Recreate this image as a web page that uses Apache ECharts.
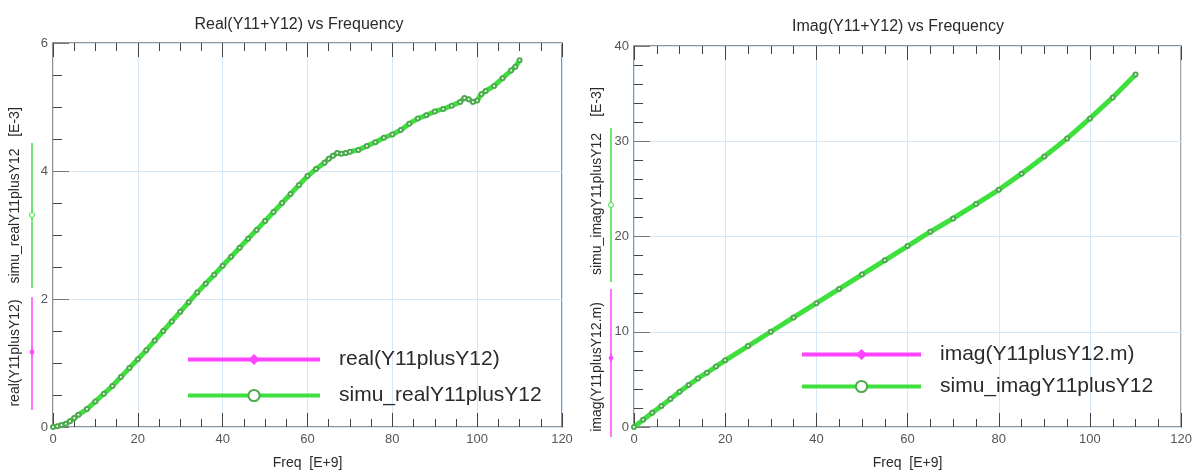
<!DOCTYPE html>
<html>
<head>
<meta charset="utf-8">
<script src="https://cdn.jsdelivr.net/npm/echarts@6/dist/echarts.min.js"></script>
<style>
  html, body { margin: 0; padding: 0; background: #fff; }
  #chart { width: 1195px; height: 475px; }
</style>
</head>
<body>
<div id="chart"></div>
<script>
// ── data ──
const freqReal = [0, 1, 2, 3, 4, 5, 6, 8, 10, 12, 14, 16, 18, 20, 22, 24, 26, 28, 30, 32, 34, 36, 38, 40,
  42, 44, 46, 48, 50, 52, 54, 56, 58, 60, 62, 64, 65, 66, 67, 68, 69, 70, 72, 74, 76, 78, 80, 82, 84, 86,
  88, 90, 92, 94, 96, 97, 98, 99, 100, 101, 102, 104, 106, 108, 109, 110];
const simuReal = [0, 0.01, 0.03, 0.05, 0.09, 0.14, 0.19, 0.28, 0.40, 0.52, 0.64, 0.78, 0.92, 1.06, 1.20,
  1.35, 1.50, 1.65, 1.80, 1.95, 2.10, 2.24, 2.38, 2.52, 2.66, 2.80, 2.94, 3.08, 3.22, 3.36, 3.50, 3.64,
  3.78, 3.92, 4.03, 4.13, 4.19, 4.24, 4.28, 4.27, 4.28, 4.30, 4.33, 4.39, 4.45, 4.52, 4.57, 4.64, 4.74,
  4.82, 4.87, 4.93, 4.97, 5.02, 5.08, 5.14, 5.12, 5.08, 5.10, 5.20, 5.25, 5.33, 5.45, 5.57, 5.63, 5.73];
const measReal = [];   // real(Y11plusY12): legend only, no visible points

const freqImag = [0, 2, 4, 6, 8, 10, 12, 14, 16, 18, 20, 25, 30, 35, 40, 45, 50, 55, 60, 65, 70, 75, 80,
  85, 90, 95, 100, 105, 110];
const simuImag = [0, 0.75, 1.5, 2.2, 2.95, 3.7, 4.4, 5.1, 5.7, 6.35, 7.0, 8.5, 10.0, 11.5, 13.0, 14.5,
  16.0, 17.5, 19.0, 20.5, 21.9, 23.4, 24.9, 26.6, 28.4, 30.3, 32.4, 34.6, 37.0];
const measImag = [];   // imag(Y11plusY12.m): legend only

const titles = ["Real(Y11+Y12) vs Frequency", "Imag(Y11+Y12) vs Frequency"];
const seriesNames = [
  ["real(Y11plusY12)", "simu_realY11plusY12"],
  ["imag(Y11plusY12.m)", "simu_imagY11plusY12"],
];

// ── styles ──
const FONT = '"Liberation Sans", Arial, sans-serif';
const GREEN = "#3ee03e";
const MAGENTA = "#ff44ff";
const BORDER = "#6e6e6e";
const GRIDLINE = "#d6e7f7";
const TEXT = "#2a2a2a";

const pairs = (xs, ys) => xs.map((x, i) => [x, ys[i]]);

function xAxes(gridIndex) {
  return [
    {
      gridIndex, type: "value", min: 0, max: 120, interval: 20,
      name: "Freq  [E+9]", nameLocation: "middle", nameGap: 29,
      nameTextStyle: { fontFamily: FONT, fontSize: 14, color: TEXT },
      axisLine: { show: false },
      axisTick: { inside: true, length: 14, lineStyle: { color: "#444" } },
      minorTick: { show: true, splitNumber: 4, length: 8, lineStyle: { color: "#444" } },
      axisLabel: { fontFamily: FONT, fontSize: 13, color: "#555", margin: 6 },
      splitLine: { show: true, lineStyle: { color: GRIDLINE } },
    },
    {
      gridIndex, type: "value", position: "top", min: 0, max: 120, interval: 20,
      axisLine: { show: false },
      axisTick: { inside: true, length: 14, lineStyle: { color: "#444" } },
      minorTick: { show: true, splitNumber: 4, length: 8, lineStyle: { color: "#444" } },
      axisLabel: { show: false },
      splitLine: { show: false },
    },
  ];
}

function yAxis(gridIndex, max, interval, minorSplit) {
  return {
    gridIndex, type: "value", min: 0, max, interval,
    axisLine: { show: false },
    axisTick: { inside: true, length: 16, lineStyle: { color: "#777" } },
    minorTick: { show: true, splitNumber: minorSplit, length: 9, lineStyle: { color: "#444" } },
    axisLabel: { fontFamily: FONT, fontSize: 13, color: "#555", margin: 5 },
    splitLine: { show: true, lineStyle: { color: GRIDLINE } },
  };
}

function legend(left, top, gap, width, data) {
  return {
    orient: "vertical", left, top, itemGap: gap, itemWidth: width, itemHeight: 14,
    data,
    lineStyle: { width: 4 },
    textStyle: { fontFamily: FONT, fontSize: 21, color: TEXT, padding: [0, 0, 0, 14] },
  };
}

function seriesPair(idx, measX, measY, simX, simY) {
  return [
    {
      name: seriesNames[idx][0], type: "line", xAxisIndex: idx * 2, yAxisIndex: idx,
      data: pairs(measX, measY), symbol: "diamond", symbolSize: 8,
      itemStyle: { color: MAGENTA }, lineStyle: { color: MAGENTA, width: 4 },
    },
    {
      name: seriesNames[idx][1], type: "line", xAxisIndex: idx * 2, yAxisIndex: idx,
      data: pairs(simX, simY), symbol: "emptyCircle", symbolSize: 4,
      itemStyle: { color: "#4fa94f", borderWidth: 1 },
      lineStyle: { color: GREEN, width: 5 },
    },
  ];
}

// ── rotated y-axis names with coloured key lines ──
function yName(x, lineX, parts) {
  const els = [];
  parts.forEach((p) => {
    els.push({
      type: "text", x, y: p.cy, rotation: Math.PI / 2, silent: true,
      style: { text: p.text, font: "14px " + FONT, fill: TEXT, align: "center", verticalAlign: "middle" },
    });
    if (p.color) {
      els.push({
        type: "line", silent: true,
        shape: { x1: lineX, y1: p.y1, x2: lineX, y2: p.y2 },
        style: { stroke: p.color, lineWidth: 1.5 },
      });
      if (p.mark === "circle") {
        els.push({
          type: "circle", silent: true, shape: { cx: lineX, cy: p.my, r: 2.5 },
          style: { fill: "#fff", stroke: p.color, lineWidth: 1 },
        });
      } else {
        els.push({
          type: "polygon", silent: true,
          shape: { points: [[lineX, p.my - 4], [lineX + 2.5, p.my], [lineX, p.my + 4], [lineX - 2.5, p.my]] },
          style: { fill: p.color },
        });
      }
    }
  });
  return els;
}

const chart = echarts.init(document.getElementById("chart"));

chart.setOption({
  backgroundColor: "#fff",
  animation: false,
  title: [
    { text: titles[0], left: 294, top: 12, textAlign: "center",
      textStyle: { fontFamily: FONT, fontSize: 16, fontWeight: "normal", color: TEXT } },
    { text: titles[1], left: 893, top: 14, textAlign: "center",
      textStyle: { fontFamily: FONT, fontSize: 16, fontWeight: "normal", color: TEXT } },
  ],
  grid: [
    { left: 53, top: 43, width: 509, height: 394, show: true, borderColor: BORDER, borderWidth: 1.5 },
    { left: 634, top: 46, width: 548, height: 391, show: true, borderColor: BORDER, borderWidth: 1.5 },
  ],
  xAxis: [...xAxes(0), ...xAxes(1)],
  yAxis: [yAxis(0, 6, 2, 4), yAxis(1, 40, 10, 5)],
  legend: [
    legend(181, 344, 15, 132, seriesNames[0]),
    legend(795, 339, 11, 119, seriesNames[1]),
  ],
  graphic: [
    ...yName(15, 32, [
      { text: "[E-3]", cy: 122 },
      { text: "simu_realY11plusY12", cy: 216, color: GREEN, y1: 143, y2: 288, my: 215, mark: "circle" },
      { text: "real(Y11plusY12)", cy: 353, color: MAGENTA, y1: 297, y2: 410, my: 352, mark: "diamond" },
    ]),
    ...yName(597, 611, [
      { text: "[E-3]", cy: 102 },
      { text: "simu_imagY11plusY12", cy: 204, color: GREEN, y1: 128, y2: 282, my: 205, mark: "circle" },
      { text: "imag(Y11plusY12.m)", cy: 367, color: MAGENTA, y1: 289, y2: 437, my: 358, mark: "diamond" },
    ]),
  ],
  series: [
    ...seriesPair(0, freqReal, measReal, freqReal, simuReal),
    ...seriesPair(1, freqImag, measImag, freqImag, simuImag),
  ],
});
</script>
</body>
</html>
